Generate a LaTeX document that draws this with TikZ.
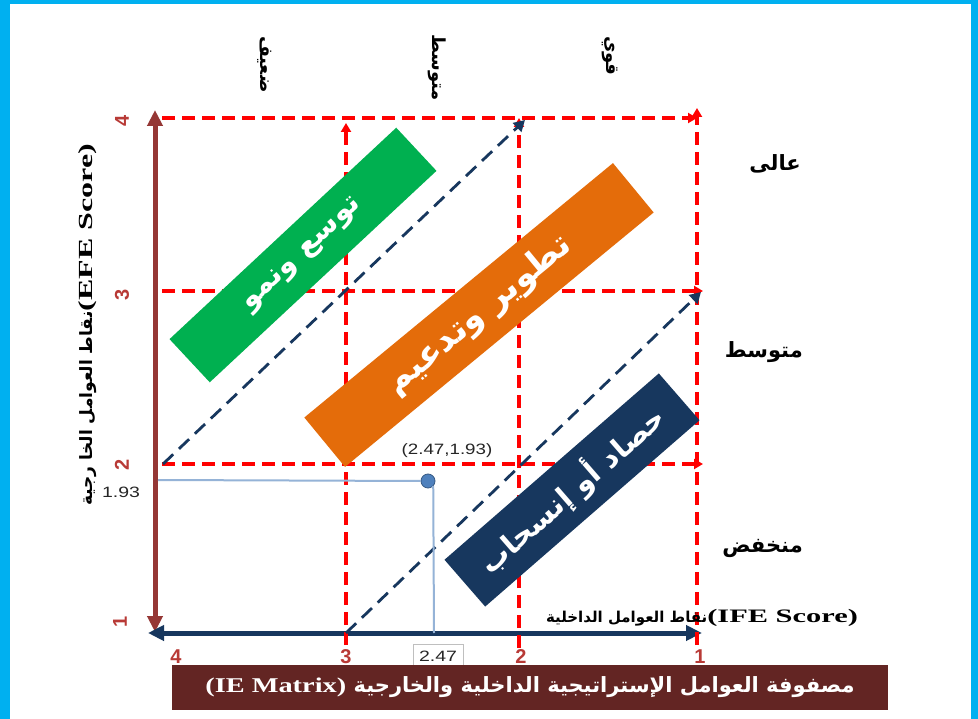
\documentclass[tikz,border=0pt]{standalone}
\usepackage{fontspec}
\setmainfont{Liberation Serif}
\newfontfamily\arabicfont[Script=Arabic]{DejaVu Sans}
\newfontfamily\arialfont{Liberation Sans}
\newfontfamily\arialbold{Liberation Sans Bold}
\TeXXeTstate=1
\usetikzlibrary{arrows.meta}
\definecolor{cyanframe}{HTML}{00B0F0}
\definecolor{gridred}{HTML}{FF0000}
\definecolor{navyc}{HTML}{17375E}
\definecolor{brownax}{HTML}{953735}
\definecolor{bandgreen}{HTML}{00B050}
\definecolor{bandorange}{HTML}{E46C0A}
\definecolor{bannerred}{HTML}{632523}
\definecolor{tickred}{HTML}{B83A36}
\definecolor{ptblue}{HTML}{4F81BD}
\definecolor{lineblue}{HTML}{95B3D7}
\newcommand{\wide}[2]{\scalebox{#1}[1]{#2}}
\begin{document}
\begin{tikzpicture}[x=1pt,y=-1pt,
  reddash/.style={draw=gridred, line width=3.3pt, dash pattern=on 13pt off 7pt, -{Triangle[length=9pt,width=10pt]}},
  navydash/.style={draw=navyc, line width=2.8pt, dash pattern=on 14pt off 8pt, -{Triangle[length=11pt,width=12pt]}},
  band/.style={rectangle, inner sep=0pt, text=white, anchor=center},
  ticklbl/.style={text=tickred, font=\arialbold\fontsize{20}{22}\selectfont, inner sep=0pt},
  arlbl/.style={text=black, inner sep=0pt},
  numlbl/.style={text=black!85, font=\arialfont\fontsize{15}{17}\selectfont, inner sep=1pt}
]
\useasboundingbox (0,0) rectangle (978,719);
\fill[white] (0,0) rectangle (978,719);
\fill[cyanframe] (0,0) rectangle (10,719);
\fill[cyanframe] (0,0) rectangle (978,4);
\fill[cyanframe] (971,0) rectangle (978,719);

% coordinates
\coordinate (vb) at (155,632);
\coordinate (vt) at (155,110);
\coordinate (hl) at (148,633);
\coordinate (hr) at (702,633);
\coordinate (h4a) at (162,118); \coordinate (h4b) at (697,118);
\coordinate (h3a) at (162,291); \coordinate (h3b) at (703,291);
\coordinate (h2a) at (162,464); \coordinate (h2b) at (703,464);
\coordinate (v3a) at (346,645); \coordinate (v3b) at (346,123);
\coordinate (v2a) at (519,648); \coordinate (v2b) at (519,118);
\coordinate (v1a) at (697,645); \coordinate (v1b) at (697,108);
\coordinate (d1a) at (163,464); \coordinate (d1b) at (525,120);
\coordinate (d2a) at (346,633); \coordinate (d2b) at (701,292);

% axes
\draw[brownax, line width=5pt, {Triangle[length=16pt,width=15pt]}-{Triangle[length=16pt,width=15pt]}] (vb) -- (vt);
\draw[navyc, line width=5pt, {Triangle[length=16pt,width=15pt]}-{Triangle[length=16pt,width=15pt]}] (hl) -- (hr);

% red grid
\draw[reddash] (h4a) -- (h4b);
\draw[reddash] (h3a) -- (h3b);
\draw[reddash] (h2a) -- (h2b);
\draw[reddash] (v3a) -- (v3b);
\draw[reddash] (v2a) -- (v2b);
\draw[reddash] (v1a) -- (v1b);

% diagonals
\draw[navydash] (d1a) -- (d1b);
\draw[navydash] (d2a) -- (d2b);

% bands
\node[band, fill=bandgreen, minimum width=310pt, minimum height=59pt, rotate=43] (grow) at (303,255)
  {\arabicfont\bfseries\fontsize{29}{32}\selectfont\beginR توسع ونمو\endR};
\node[band, fill=bandorange, minimum width=400pt, minimum height=64pt, rotate=39.5] (hold) at (479,315)
  {\arabicfont\bfseries\fontsize{34}{38}\selectfont\beginR تطوير وتدعيم\endR};
\node[band, fill=navyc, minimum width=284pt, minimum height=62pt, rotate=41] (harvest) at (572,490)
  {\arabicfont\bfseries\fontsize{29}{32}\selectfont\beginR حصاد أو إنسحاب\endR};

% point and guides
\coordinate (gl) at (158,480);
\node[circle, fill=ptblue, draw=ptblue!70!black, line width=0.8pt, minimum size=14pt, inner sep=0pt] (pt) at (428,481) {};
\coordinate (gb) at (434,633);
\draw[lineblue, line width=2pt] (gl) -- (pt.west);
\draw[lineblue, line width=2pt] (gb) -- (pt.south east);
\node[numlbl, fill=white, fill opacity=0.85, text opacity=1, inner sep=3pt] (ptlbl) at (447,451) {\wide{1.25}{(2.47,1.93)}};
\node[numlbl] (ylbl) at (121,492) {\wide{1.3}{1.93}};
\node[numlbl, draw=black!25, fill=white, minimum width=50pt, minimum height=23pt] (xlbl) at (438,656) {\wide{1.3}{2.47}};

% tick labels
\node[ticklbl, rotate=90] (l4) at (122,121) {4};
\node[ticklbl, rotate=90] (l3) at (122,295) {3};
\node[ticklbl, rotate=90] (l2) at (122,465) {2};
\node[ticklbl, rotate=90] (l1) at (120,622) {1};
\node[ticklbl] (b4) at (176,657) {4};
\node[ticklbl] (b3) at (346,657) {3};
\node[ticklbl] (b2) at (521,657) {2};
\node[ticklbl] (b1) at (700,657) {1};

% top labels
\node[arlbl, rotate=-90, anchor=west] (tw) at (265,36) {\arabicfont\bfseries\fontsize{18}{20}\selectfont\beginR ضعيف\endR};
\node[arlbl, rotate=-90, anchor=west] (tm) at (437,34) {\arabicfont\bfseries\fontsize{18}{20}\selectfont\beginR متوسط\endR};
\node[arlbl, rotate=-90, anchor=west] (ts) at (610,36) {\arabicfont\bfseries\fontsize{18}{20}\selectfont\beginR قوي\endR};

% right labels
\node[arlbl, anchor=east] (rh) at (801,164) {\arabicfont\bfseries\fontsize{21}{24}\selectfont\beginR عالى\endR};
\node[arlbl, anchor=east] (rm) at (803,352) {\arabicfont\bfseries\fontsize{21}{24}\selectfont\beginR متوسط\endR};
\node[arlbl, anchor=east] (rl) at (803,548) {\arabicfont\bfseries\fontsize{21}{24}\selectfont\beginR منخفض\endR};

% axis titles
\node[arlbl, rotate=90] (efe) at (88,325) {{\arabicfont\bfseries\fontsize{17}{19}\selectfont\beginR نقاط العوامل الخا رجية\endR}{\bfseries\fontsize{20}{22}\selectfont\wide{1.6}{(EFE Score)}}};
\node[arlbl] (ife) at (702,618) {{\arabicfont\bfseries\fontsize{15}{18}\selectfont\beginR نقاط العوامل الداخلية\endR}{\bfseries\fontsize{19}{21}\selectfont\wide{1.6}{(IFE Score)}}};

% banner
\node[fill=bannerred, minimum width=716pt, minimum height=45pt, inner sep=0pt, text=white] (banner) at (530,687.5)
  {\fontsize{21}{24}\selectfont{\arabicfont\bfseries\beginR مصفوفة العوامل الإستراتيجية الداخلية والخارجية \beginL{\rmfamily\bfseries\wide{1.35}{(IE Matrix)}}\endL\endR}};
\end{tikzpicture}
\end{document}
